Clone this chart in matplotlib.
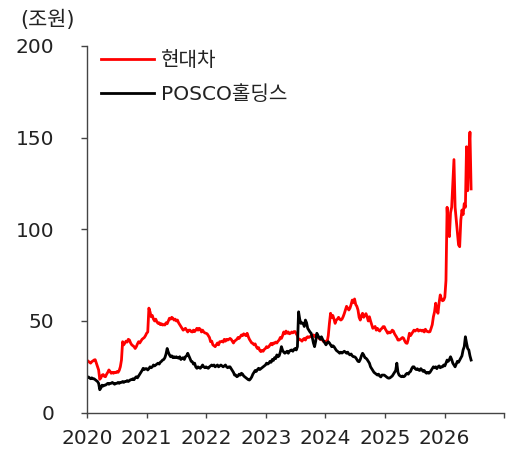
import matplotlib
matplotlib.use("Agg")
import matplotlib.pyplot as plt
import pandas as pd

plt.rcParams['font.family'] = ['DejaVu Sans', 'Noto Sans CJK KR']

series_names = ["현대차", "POSCO홀딩스"]
start_date = "2020-01-03"
year_ticks = [2020, 2021, 2022, 2023, 2024, 2025, 2026, 2027]
year_labels = ["2020", "2021", "2022", "2023", "2024", "2025", "2026", ""]
y_ticks = [0, 50, 100, 150, 200]
unit_label = "(조원)"

# weekly market cap (trillion KRW)
hyundai = [
    28.5, 28, 27.5, 27, 27.8, 28.2, 28.7, 28.9, 27, 25, 23.3, 18.2, 19,
    20.5, 20.8, 19.8, 19.6, 21, 22, 23.3, 22.5, 21.5, 22, 21.5, 22, 21.8,
    22.4, 22, 23, 25, 28.7, 38.7, 37, 38, 39, 38.5, 40, 39.6, 38,
    37, 36.5, 36, 35, 36, 37.5, 38.7, 38, 39, 40, 40.5, 41, 42,
    43.3, 44, 57, 55, 52.3, 53, 51, 50, 51, 49.5, 48.7, 49, 48,
    48.5, 47.8, 48, 47.8, 49, 48.5, 50, 51.5, 51, 52, 51.5, 50.5, 51,
    50, 50.5, 49, 48, 47, 46, 45, 45.5, 46, 45, 44, 45, 45,
    44.2, 44, 45, 44.2, 45, 46, 45, 46, 45.5, 44, 45, 44, 43.5,
    43.3, 43, 42, 41, 38.7, 39, 37, 36.5, 36, 37, 38, 37, 38.7,
    38.7, 39, 38.5, 40, 39, 40, 39.6, 40, 40.5, 40, 39, 38, 39,
    39.5, 40, 41, 40.5, 41.5, 42.4, 42, 43, 42.4, 42, 43.3, 41.4, 40,
    39, 38, 37.8, 37, 37.5, 36, 35, 35.5, 34, 33.3, 34, 33.5, 34.5,
    35, 36, 35.5, 36, 37, 37.8, 37, 38, 37.8, 38.5, 38, 39, 39.6,
    41, 40.5, 42, 44, 43, 44.5, 43.3, 44, 43, 43.3, 44, 43.5, 44.2,
    44.2, 43, 42, 39.6, 40, 39.6, 39, 40, 40.5, 39.6, 41, 41.4, 41,
    41.5, 41.4, 42, 42.4, 41.5, 42, 42, 41, 40.5, 40, 40.5, 39.5, 38.7,
    38.7, 39, 38.5, 42, 48.7, 54.2, 52, 53, 51, 48.7, 50.5, 51, 52,
    51, 50.5, 51, 52.3, 54, 56, 58, 57, 56, 57, 59, 61.4, 60,
    62, 59, 58, 56, 52, 50.5, 53, 54.2, 52, 53, 54, 52.3, 50,
    52.3, 50, 48, 46, 46.5, 47, 45, 46, 45, 44.5, 45.5, 46, 46.9,
    46.9, 45.5, 44.5, 43.3, 44, 43.5, 44, 45, 44.5, 43, 42, 41, 39.6,
    39.6, 40, 40.5, 41, 40.5, 39, 38, 37.8, 40, 43.3, 42, 43, 44,
    45, 44.5, 45, 45.5, 44.5, 45, 45, 44.5, 45, 44, 45.5, 44.5, 44.2,
    44, 44.2, 46, 48, 52.3, 55, 59.7, 56, 54.2, 60, 64.2, 62, 61,
    61.4, 63, 72, 112, 98, 96, 109, 112, 125, 138, 112, 105, 98,
    91.5, 90.5, 105, 110.5, 108, 114, 112, 145, 121, 141, 153, 122,
]

posco = [
    19, 19.5, 19, 18.5, 19, 18.5, 18.5, 18, 17.5, 17, 16, 12.5, 13.5,
    15, 14.5, 15, 15, 15.5, 16, 15.5, 16, 16, 16.5, 16, 15.5, 16,
    16, 16.5, 16, 16.5, 16.5, 17, 16.5, 17, 17, 17.5, 17, 17.5, 18,
    18, 18.5, 18, 19, 19.6, 19, 20, 21, 22, 23, 24.2, 23.5, 24,
    24, 23.3, 24, 25, 24.5, 25, 26, 25.5, 26, 26.5, 27, 26.5, 27.5,
    28, 28.7, 29, 30, 32, 35, 33, 31.5, 30.5, 31, 30, 30.5, 30,
    30.5, 30, 29.7, 30.5, 29, 29.7, 30, 29, 30.5, 31, 32.4, 31, 29.5,
    28, 27.8, 26.5, 27, 25, 24.2, 25, 24.5, 24.2, 25, 26, 25, 24.5,
    25, 24.5, 24.2, 25, 25.5, 26, 25.5, 26, 25, 25.5, 26, 25, 25.5,
    26, 25.5, 25, 25.5, 26, 25, 24.5, 25, 25, 24, 23, 22, 20.5,
    20.5, 19.6, 20, 21, 20.5, 21.5, 21, 20, 19.5, 19, 18.5, 18, 17.8,
    18.5, 19.5, 21, 22, 23, 22.5, 23.5, 24.2, 23.5, 24, 24.5, 25, 25.5,
    26, 27, 26.5, 27, 28, 27.5, 29, 28.5, 30, 29.5, 31.5, 30.5, 31,
    33, 36, 34, 33, 32.4, 33, 33.5, 32.4, 33.5, 34, 34.2, 33.5, 34.5,
    35, 34.2, 36, 55, 51, 48.7, 49, 48.7, 47, 50.5, 49, 46, 45,
    44, 43.3, 41, 38, 36, 39, 43.3, 42, 41, 40, 41.4, 40, 39,
    38, 37, 38, 38.7, 38, 37, 36, 36.5, 36, 35, 34, 33.5, 33,
    32.4, 33, 32.5, 33, 33.5, 33, 32.4, 33, 32, 31.5, 32, 31, 30.5,
    30.5, 30, 29, 28, 27.8, 29, 31, 32.4, 31.5, 30, 29.7, 29, 28,
    27, 25, 24, 23, 22, 21.5, 21, 20.5, 21, 20, 19.5, 20.5, 20.5,
    20.5, 20, 19.5, 19, 18.8, 19, 19.5, 20, 21, 22, 23, 27, 22,
    20.5, 20, 19.6, 20, 19.6, 20, 21, 21.5, 21, 22, 22.5, 24, 25,
    25, 24, 23.5, 24, 23.3, 23, 24, 23.3, 22.5, 23, 22, 21.5, 22,
    21.5, 22, 23, 24, 25, 24.5, 25, 24, 25, 25.5, 24.5, 25, 25,
    26, 25.5, 27, 28.7, 28, 29, 30.5, 29, 27, 26, 25, 26.5, 28,
    27.5, 28.7, 30, 31, 34.2, 36, 41.4, 38, 35, 34.2, 31, 28.7,
]

dates = pd.date_range(start_date, periods=len(hyundai), freq="7D")

fig = plt.figure(figsize=(5.14, 4.54), dpi=100)
ax = fig.add_axes([0.169, 0.091, 0.812, 0.808])

ax.plot(dates, hyundai, color="#ff0000", lw=2.0, label=series_names[0])
ax.plot(dates, posco, color="#000000", lw=2.0, label=series_names[1])

ax.set_ylim(0, 200)
ax.set_yticks(y_ticks)
ax.set_xlim(pd.Timestamp("2020-01-01"), pd.Timestamp("2027-01-01"))
ax.set_xticks([pd.Timestamp(f"{y}-01-01") for y in year_ticks])
ax.set_xticklabels(year_labels)

for s in ["top", "right"]:
    ax.spines[s].set_visible(False)
for s in ["left", "bottom"]:
    ax.spines[s].set_color("#444444")
    ax.spines[s].set_linewidth(1.0)

ax.tick_params(axis="both", direction="out", color="#444444", width=1.0,
               labelsize=14.5, labelcolor="#222222")
ax.tick_params(axis="y", length=4.3)
ax.tick_params(axis="x", length=3.6)
for t in ax.yaxis.get_major_ticks():
    t.set_pad(19.3)
for t in ax.xaxis.get_major_ticks():
    t.set_pad(8.4)

fig.text(0.093, 0.957, unit_label, ha="center", va="center", fontsize=15, color="#222222")

leg = ax.legend(loc="upper left", bbox_to_anchor=(0.035, 0.985), frameon=False,
                fontsize=14.5, handlelength=2.6, handletextpad=0.35,
                labelspacing=0.72, borderpad=0, borderaxespad=0)
for t in leg.get_texts():
    t.set_color("#222222")

fig.savefig("out.png", dpi=100)
